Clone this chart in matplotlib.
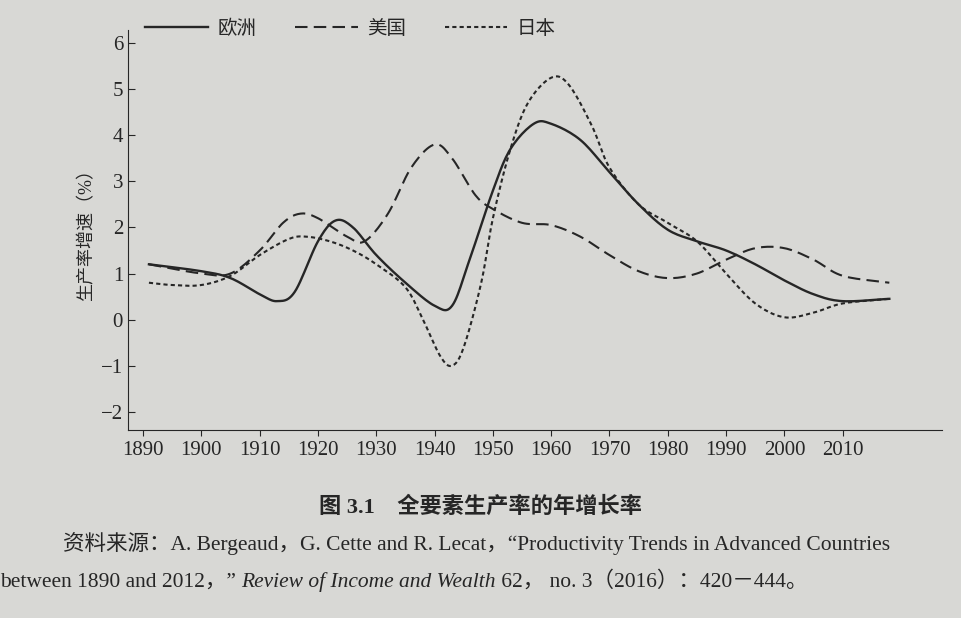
import numpy as np
import matplotlib.pyplot as plt

# year / value pairs
eu_years = [1891, 1900, 1905, 1910, 1913, 1916, 1920, 1923, 1926, 1930, 1935, 1940, 1943, 1946, 1950, 1953, 1957, 1960, 1965, 1970, 1975, 1980, 1985, 1990, 1995, 2000, 2005, 2010, 2018]
eu_vals = [1.2, 1.05, 0.9, 0.55, 0.4, 0.6, 1.7, 2.15, 2.0, 1.4, 0.8, 0.3, 0.3, 1.3, 2.8, 3.7, 4.25, 4.25, 3.9, 3.2, 2.5, 1.95, 1.7, 1.5, 1.2, 0.85, 0.55, 0.4, 0.45]

us_years = [1891, 1900, 1905, 1910, 1914, 1917, 1920, 1925, 1928, 1932, 1936, 1940, 1943, 1947, 1950, 1955, 1960, 1965, 1970, 1975, 1980, 1985, 1990, 1995, 2000, 2005, 2010, 2018]
us_vals = [1.2, 1.0, 1.0, 1.5, 2.1, 2.3, 2.2, 1.8, 1.7, 2.3, 3.3, 3.8, 3.5, 2.7, 2.4, 2.1, 2.05, 1.8, 1.4, 1.05, 0.9, 1.0, 1.3, 1.55, 1.55, 1.3, 0.95, 0.8]

jp_years = [1891, 1895, 1900, 1905, 1910, 1915, 1918, 1922, 1926, 1930, 1935, 1938, 1941, 1943, 1945, 1948, 1950, 1953, 1956, 1960, 1963, 1967, 1970, 1975, 1980, 1985, 1990, 1995, 2000, 2005, 2010, 2018]
jp_vals = [0.8, 0.75, 0.75, 0.95, 1.4, 1.75, 1.8, 1.7, 1.5, 1.2, 0.7, 0.0, -0.8, -1.0, -0.6, 0.8, 2.2, 3.7, 4.7, 5.25, 5.1, 4.2, 3.3, 2.5, 2.1, 1.7, 1.0, 0.35, 0.05, 0.15, 0.35, 0.45]

x_ticks = list(range(1890, 2011, 10))
y_ticks = list(range(-2, 7))


def smooth(xs, ys, n=12):
    # Catmull-Rom through the read points, only for a rounder line
    x = np.asarray(xs, float); y = np.asarray(ys, float)
    px = np.r_[2 * x[0] - x[1], x, 2 * x[-1] - x[-2]]
    py = np.r_[2 * y[0] - y[1], y, 2 * y[-1] - y[-2]]
    t = np.linspace(0, 1, n, endpoint=False)
    ox, oy = [], []
    for i in range(1, len(px) - 2):
        for arr, out in ((px, ox), (py, oy)):
            p0, p1, p2, p3 = arr[i - 1:i + 3]
            out.extend(0.5 * (2 * p1 + (-p0 + p2) * t + (2 * p0 - 5 * p1 + 4 * p2 - p3) * t ** 2
                              + (-p0 + 3 * p1 - 3 * p2 + p3) * t ** 3))
    ox.append(x[-1]); oy.append(y[-1])
    return ox, oy


fam = ['Liberation Serif', 'Noto Sans CJK SC']
plt.rcParams['font.family'] = fam
bg = '#d8d8d5'
ink = '#262626'

fig = plt.figure(figsize=(9.62, 6.18), dpi=100, facecolor=bg)
ax = fig.add_axes([0.133, 0.304, 0.846, 0.647], facecolor=bg)

ax.plot(*smooth(eu_years, eu_vals), color=ink, lw=1.7, ls='-', label='欧洲')
ax.plot(*smooth(us_years, us_vals), color=ink, lw=1.5, ls=(0, (6, 3)), label='美国')
ax.plot(*smooth(jp_years, jp_vals), color=ink, lw=1.5, ls=(0, (2, 1.5)), label='日本')

ax.set_xlim(1887.4, 2027)
ax.set_ylim(-2.4, 6.28)
ax.set_xticks(x_ticks)
ax.set_yticks(y_ticks)
for s in ['top', 'right']:
    ax.spines[s].set_visible(False)
for s in ['left', 'bottom']:
    ax.spines[s].set_color(ink)
ax.tick_params(axis='y', direction='in', length=5, colors=ink, labelsize=15)
ax.tick_params(axis='x', direction='out', length=4, colors=ink, labelsize=15)
ax.set_ylabel('生产率增速（%）', fontsize=13, color=ink)

ax.legend(loc='upper left', bbox_to_anchor=(0.0, 1.07), ncol=3, frameon=False,
          fontsize=14, handlelength=3.2, handletextpad=0.5, columnspacing=2.0, labelcolor=ink)

fig.text(0.5, 0.17, '图 3.1    全要素生产率的年增长率', ha='center', fontsize=16,
         fontweight='bold', color=ink)
fig.text(0.065, 0.11, '资料来源：A. Bergeaud，G. Cette and R. Lecat，“Productivity Trends in Advanced Countries',
         fontsize=15.5, color=ink)

# second source line in three pieces, journal name in italics
fig.canvas.draw()
r = fig.canvas.get_renderer()
x0 = 0.0
for txt, st in [('between 1890 and 2012，” ', 'normal'),
                ('Review of Income and Wealth', 'italic'),
                (' 62， no. 3（2016）：420－444。', 'normal')]:
    t = fig.text(x0, 0.05, txt, fontsize=15.5, color=ink, style=st)
    x0 = fig.transFigure.inverted().transform(t.get_window_extent(r).p1)[0]

fig.savefig('out.png', dpi=100, facecolor=bg)
